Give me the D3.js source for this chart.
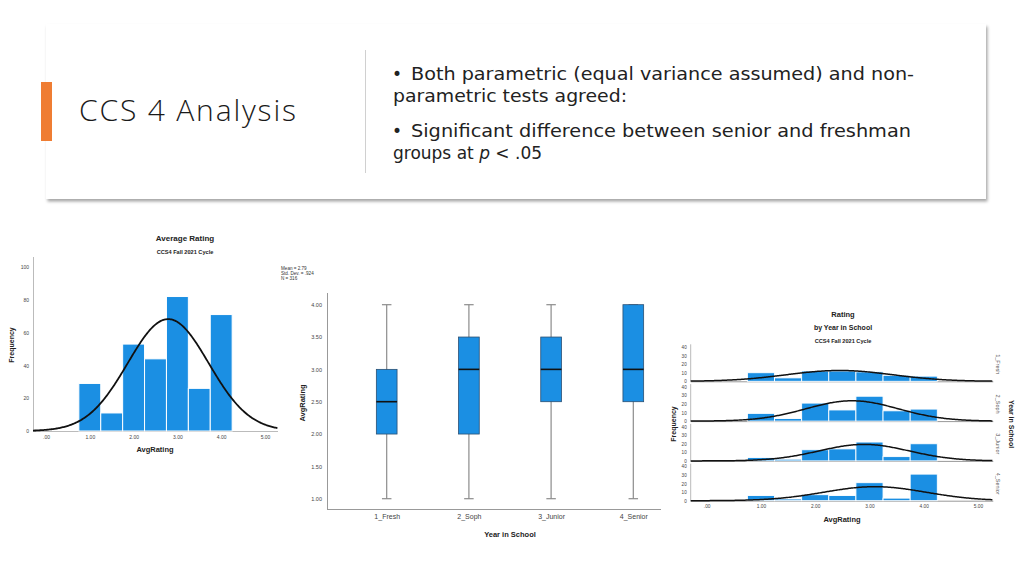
<!DOCTYPE html>
<html><head><meta charset="utf-8">
<script src="https://cdn.jsdelivr.net/npm/d3@7"></script>
<style>
html,body{margin:0;padding:0;background:#fff;}
svg{display:block;}
</style></head>
<body>
<svg id="s" width="1024" height="576"></svg>
<script>
// ---------- DATA ----------
const slideTitle = "CCS 4 Analysis";
const bullet1 = ["Both parametric (equal variance assumed) and non-", "parametric tests agreed:"];
const bullet2 = ["Significant difference between senior and freshman", "groups at "];
const binEdges = [0.75, 1.25, 1.75, 2.25, 2.75, 3.25, 3.75, 4.25];
const overallCounts = [29, 11, 53, 44, 82, 26, 71];
const overallStats = {mean: 2.79, sd: 0.924, n: 316};
const histXTicks = [0, 1, 2, 3, 4, 5];
const histXTickLabels = [".00", "1.00", "2.00", "3.00", "4.00", "5.00"];
const histYTicks = [0, 20, 40, 60, 80, 100];

const years = ["1_Fresh", "2_Soph", "3_Junior", "4_Senior"];
const boxMin = [1, 1, 1, 1];
const boxQ1 = [2.0, 2.0, 2.5, 2.5];
const boxMedian = [2.5, 3.0, 3.0, 3.0];
const boxQ3 = [3.0, 3.5, 3.5, 4.0];
const boxMax = [4, 4, 4, 4];
const boxYTicks = [1.0, 1.5, 2.0, 2.5, 3.0, 3.5, 4.0];

const freshCounts = [10, 4, 12, 12, 11, 7, 6];
const sophCounts = [9, 3, 21, 13, 29, 12, 14];
const juniorCounts = [4, 2, 13, 14, 22, 5, 20];
const seniorCounts = [6, 2, 7, 6, 21, 3, 31];
const groupMeans = [2.45, 2.68, 2.90, 3.10];
const groupSDs = [0.98, 0.85, 0.83, 0.94];
const groupNs = [62, 101, 80, 77];
const panelYTicks = [0, 10, 20, 30, 40];

// ---------- DRAW ----------
const svg = d3.select("#s");
const blue = "#1b8fe3";
const chartFont = "Liberation Sans, Arial, sans-serif";
const slideFont = "Open Sans, sans-serif";
const bulletFont = "DejaVu Sans, sans-serif";

// slide header card
const defs = svg.append("defs");
const f = defs.append("filter").attr("id","sh").attr("x","-5%").attr("y","-10%").attr("width","110%").attr("height","130%");
f.append("feDropShadow").attr("dx",1.5).attr("dy",2.5).attr("stdDeviation",1.5).attr("flood-color","#000").attr("flood-opacity",0.35);
svg.append("rect").attr("x",46).attr("y",24).attr("width",940).attr("height",175).attr("fill","#fff").attr("filter","url(#sh)");
svg.append("rect").attr("x",41).attr("y",82).attr("width",11).attr("height",59).attr("fill","#ef7d33");
svg.append("text").attr("x",79).attr("y",121).attr("font-family",slideFont).attr("font-weight",300)
  .attr("font-size",30).attr("fill","#1a1a1a").attr("textLength",217).attr("lengthAdjust","spacing").text(slideTitle);
svg.append("line").attr("x1",365.5).attr("x2",365.5).attr("y1",50).attr("y2",173).attr("stroke","#d0d0d0").attr("stroke-width",1);

const bt = svg.append("g").attr("font-family",bulletFont).attr("font-size",17).attr("fill","#222");
bt.append("text").attr("x",392).attr("y",80).text("•");
bt.append("text").attr("x",411).attr("y",80).attr("textLength",503).attr("lengthAdjust","spacingAndGlyphs").text(bullet1[0]);
bt.append("text").attr("x",393).attr("y",102).attr("textLength",234).attr("lengthAdjust","spacingAndGlyphs").text(bullet1[1]);
bt.append("text").attr("x",392).attr("y",137).text("•");
bt.append("text").attr("x",411).attr("y",137).attr("textLength",500).attr("lengthAdjust","spacingAndGlyphs").text(bullet2[0]);
const l4 = bt.append("text").attr("x",393).attr("y",159);
l4.append("tspan").text(bullet2[1]);
l4.append("tspan").attr("font-style","italic").text("p");
l4.append("tspan").text(" < .05");

function normalPdf(x, m, s){ return Math.exp(-0.5*((x-m)/s)**2)/(s*Math.sqrt(2*Math.PI)); }

// ---------- Left histogram ----------
{
  const x = d3.scaleLinear().domain([0,5]).range([46,265]);
  const y = d3.scaleLinear().domain([0,100]).range([431,267]);
  const g = svg.append("g").attr("font-family",chartFont);
  g.append("text").attr("x",185).attr("y",241).attr("text-anchor","middle").attr("font-size",8).attr("font-weight","bold").attr("fill","#222").text("Average Rating");
  g.append("text").attr("x",185).attr("y",254).attr("text-anchor","middle").attr("font-size",5.6).attr("font-weight","bold").attr("fill","#222").text("CCS4 Fall 2021 Cycle");
  g.append("line").attr("x1",33.5).attr("x2",33.5).attr("y1",257).attr("y2",431).attr("stroke","#bbb");
  g.append("line").attr("x1",33).attr("x2",278).attr("y1",431.5).attr("y2",431.5).attr("stroke","#bbb");
  const yAx = g.append("g").attr("transform","translate(33,0)")
    .call(d3.axisLeft(y).tickValues(histYTicks).tickSize(0).tickPadding(4));
  yAx.select(".domain").remove();
  yAx.selectAll("text").attr("font-size",5).attr("fill","#444").attr("font-family",chartFont);
  const xAx = g.append("g").attr("transform","translate(0,431)")
    .call(d3.axisBottom(x).tickValues(histXTicks).tickFormat((d,i)=>histXTickLabels[i]).tickSize(0).tickPadding(4));
  xAx.select(".domain").remove();
  xAx.selectAll("text").attr("font-size",5).attr("fill","#444").attr("font-family",chartFont);
  g.append("text").attr("x",155).attr("y",452).attr("text-anchor","middle").attr("font-size",7.5).attr("font-weight","bold").attr("fill","#222").text("AvgRating");
  g.append("text").attr("transform","translate(14,345) rotate(-90)").attr("text-anchor","middle").attr("font-size",7).attr("font-weight","bold").attr("fill","#222").text("Frequency");
  g.selectAll("rect.bar").data(overallCounts).join("rect").attr("class","bar")
    .attr("x",(d,i)=>x(binEdges[i])).attr("width",(d,i)=>x(binEdges[i+1])-x(binEdges[i]))
    .attr("y",d=>y(d)).attr("height",d=>y(0)-y(d)).attr("fill",blue).attr("stroke","#fff").attr("stroke-width",1);
  const bw = binEdges[1]-binEdges[0];
  const xs = d3.range(x.invert(33), x.invert(278)+0.001, 0.02);
  g.append("path").datum(xs).attr("fill","none").attr("stroke","#111").attr("stroke-width",1.8)
    .attr("d",d3.line().x(d=>x(d)).y(d=>y(normalPdf(d,overallStats.mean,overallStats.sd)*overallStats.n*bw)));
  const lg = g.append("g").attr("font-size",4.6).attr("fill","#333");
  lg.append("text").attr("x",281).attr("y",270).text("Mean = " + overallStats.mean.toFixed(2));
  lg.append("text").attr("x",281).attr("y",275).text("Std. Dev. = " + overallStats.sd.toFixed(3).replace(/^0/,""));
  lg.append("text").attr("x",281).attr("y",280).text("N = " + overallStats.n);
}

// ---------- Boxplot ----------
{
  const x = d3.scalePoint().domain(years).range([386.7,633.3]);
  const y = d3.scaleLinear().domain([1,4]).range([498.7,304.7]);
  const g = svg.append("g").attr("font-family",chartFont);
  g.append("line").attr("x1",327.5).attr("x2",327.5).attr("y1",293).attr("y2",509).attr("stroke","#999");
  g.append("line").attr("x1",327).attr("x2",661).attr("y1",509.5).attr("y2",509.5).attr("stroke","#999");
  const yAx = g.append("g").attr("transform","translate(327,0)")
    .call(d3.axisLeft(y).tickValues(boxYTicks).tickFormat(d3.format(".2f")).tickSize(0).tickPadding(5));
  yAx.select(".domain").remove();
  yAx.selectAll("text").attr("font-size",5.5).attr("fill","#444").attr("font-family",chartFont);
  const xAx = g.append("g").attr("transform","translate(0,509)")
    .call(d3.axisBottom(x).tickSize(0).tickPadding(5));
  xAx.select(".domain").remove();
  xAx.selectAll("text").attr("font-size",7).attr("fill","#444").attr("font-family",chartFont);
  g.append("text").attr("x",510).attr("y",537).attr("text-anchor","middle").attr("font-size",7.5).attr("font-weight","bold").attr("fill","#222").text("Year in School");
  g.append("text").attr("transform","translate(305,403) rotate(-90)").attr("text-anchor","middle").attr("font-size",7.5).attr("font-weight","bold").attr("fill","#222").text("AvgRating");
  const bw = 20.7, cw = 9.5;
  years.forEach((c,i)=>{
    const cx = x(c);
    g.append("line").attr("x1",cx).attr("x2",cx).attr("y1",y(boxMax[i])).attr("y2",y(boxMin[i])).attr("stroke","#8c8c8c").attr("stroke-width",1.2);
    [boxMax[i], boxMin[i]].forEach(v=>{
      g.append("line").attr("x1",cx-cw/2).attr("x2",cx+cw/2).attr("y1",y(v)).attr("y2",y(v)).attr("stroke","#8c8c8c").attr("stroke-width",1.2);
    });
    g.append("rect").attr("x",cx-bw/2).attr("width",bw).attr("y",y(boxQ3[i])).attr("height",y(boxQ1[i])-y(boxQ3[i]))
      .attr("fill",blue).attr("stroke","#2a4f73").attr("stroke-width",0.8);
    g.append("line").attr("x1",cx-bw/2).attr("x2",cx+bw/2).attr("y1",y(boxMedian[i])).attr("y2",y(boxMedian[i])).attr("stroke","#111").attr("stroke-width",1.6);
  });
}

// ---------- Panel histograms ----------
{
  const x = d3.scaleLinear().domain([0,5]).range([706.7,978]);
  const g = svg.append("g").attr("font-family",chartFont);
  g.append("text").attr("x",843).attr("y",317).attr("text-anchor","middle").attr("font-size",7.5).attr("font-weight","bold").attr("fill","#222").text("Rating");
  g.append("text").attr("x",843).attr("y",330).attr("text-anchor","middle").attr("font-size",7).attr("font-weight","bold").attr("fill","#222").text("by Year in School");
  g.append("text").attr("x",843).attr("y",342.5).attr("text-anchor","middle").attr("font-size",5.6).attr("font-weight","bold").attr("fill","#222").text("CCS4 Fall 2021 Cycle");
  const allCounts = [freshCounts, sophCounts, juniorCounts, seniorCounts];
  const bw = binEdges[1]-binEdges[0];
  const x0 = 690.7, x1 = 993.3;
  const xs = d3.range(x.invert(x0), x.invert(x1)+0.001, 0.02);
  allCounts.forEach((counts,p)=>{
    const zero = 381.3 + p*39.8;
    const y = d3.scaleLinear().domain([0,40]).range([zero, zero-34.3]);
    g.append("line").attr("x1",x0).attr("x2",x0).attr("y1",zero-37).attr("y2",zero).attr("stroke","#bbb");
    g.append("line").attr("x1",x0).attr("x2",x1).attr("y1",zero+0.5).attr("y2",zero+0.5).attr("stroke","#999");
    const yAx = g.append("g").attr("transform",`translate(${x0},0)`)
      .call(d3.axisLeft(y).tickValues(panelYTicks).tickSize(0).tickPadding(4));
    yAx.select(".domain").remove();
    yAx.selectAll("text").attr("font-size",4.6).attr("fill","#444").attr("font-family",chartFont);
    g.append("g").selectAll("rect").data(counts).join("rect")
      .attr("x",(d,i)=>x(binEdges[i])).attr("width",(d,i)=>x(binEdges[i+1])-x(binEdges[i]))
      .attr("y",d=>y(d)).attr("height",d=>y(0)-y(d)).attr("fill",blue).attr("stroke","#fff").attr("stroke-width",0.9);
    g.append("path").datum(xs).attr("fill","none").attr("stroke","#111").attr("stroke-width",1.5)
      .attr("d",d3.line().x(d=>x(d)).y(d=>y(normalPdf(d,groupMeans[p],groupSDs[p])*groupNs[p]*bw)));
    g.append("text").attr("transform",`translate(996,${zero-17}) rotate(90)`).attr("text-anchor","middle")
      .attr("font-size",5.5).attr("fill","#555").text(years[p]);
  });
  const xAx = g.append("g").attr("transform","translate(0,501)")
    .call(d3.axisBottom(x).tickValues(histXTicks).tickFormat((d,i)=>histXTickLabels[i]).tickSize(0).tickPadding(4));
  xAx.select(".domain").remove();
  xAx.selectAll("text").attr("font-size",4.8).attr("fill","#444").attr("font-family",chartFont);
  g.append("text").attr("x",842).attr("y",522).attr("text-anchor","middle").attr("font-size",7.5).attr("font-weight","bold").attr("fill","#222").text("AvgRating");
  g.append("text").attr("transform","translate(676,424) rotate(-90)").attr("text-anchor","middle").attr("font-size",7).attr("font-weight","bold").attr("fill","#222").text("Frequency");
  g.append("text").attr("transform","translate(1009,424) rotate(90)").attr("text-anchor","middle").attr("font-size",7).attr("font-weight","bold").attr("fill","#222").text("Year in School");
}
</script>
</body></html>
